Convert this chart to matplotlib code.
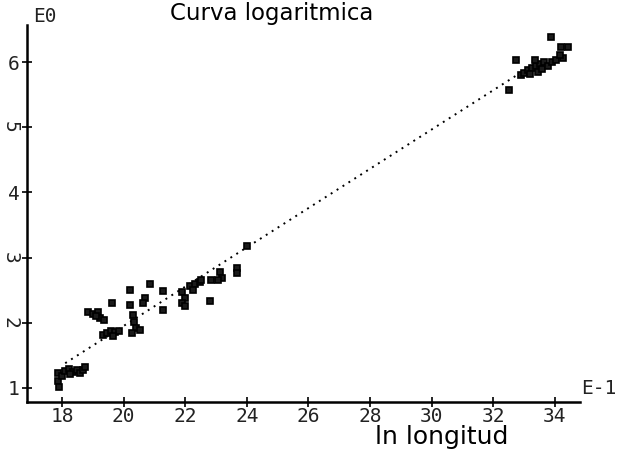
import matplotlib
matplotlib.use("Agg")
import matplotlib.pyplot as plt

# ln longitud (x, in units of E-1) vs ln peso (y, E0)
lower_x = [17.87, 17.87, 17.90, 18.00, 18.10, 18.23, 18.36, 18.49, 18.58, 18.68, 18.75, 18.26]
lower_y = [1.23, 1.11, 1.02, 1.18, 1.26, 1.29, 1.25, 1.28, 1.23, 1.28, 1.32, 1.21]

mid_x = [19.33, 19.46, 19.59, 19.72, 19.85, 19.66,
         18.84, 19.00, 19.17, 19.23, 19.36, 19.10, 19.62,
         20.21, 20.21, 20.30, 20.34, 20.40, 20.27, 20.53,
         20.69, 20.63, 20.86, 21.28, 21.28,
         21.90, 22.00, 21.90, 22.00, 22.16, 22.32, 22.48, 22.25,
         22.51, 22.84, 23.13, 23.19, 23.06, 23.68, 23.68, 22.81, 24.00]
mid_y = [1.81, 1.84, 1.87, 1.86, 1.87, 1.80,
         2.17, 2.13, 2.17, 2.07, 2.04, 2.10, 2.30,
         2.50, 2.27, 2.12, 2.01, 1.92, 1.84, 1.89,
         2.38, 2.30, 2.60, 2.49, 2.20,
         2.47, 2.38, 2.30, 2.26, 2.56, 2.59, 2.63, 2.50,
         2.66, 2.66, 2.78, 2.69, 2.66, 2.84, 2.76, 2.33, 3.18]

upper_x = [32.51, 32.74, 32.90, 33.00, 33.13, 33.26, 33.39, 33.52, 33.65,
           33.19, 33.45, 33.36, 33.58, 33.78, 33.90, 34.04, 33.88,
           34.20, 34.43, 34.27, 34.17]
upper_y = [5.57, 6.03, 5.80, 5.83, 5.88, 5.91, 5.94, 5.97, 6.00,
           5.82, 5.85, 6.03, 5.89, 5.94, 6.00, 6.03, 6.38,
           6.23, 6.23, 6.06, 6.11]

# fitted straight line (end points)
fit_x = [18.1, 33.0]
fit_y = [1.38, 5.87]

x_ticks = [18, 20, 22, 24, 26, 28, 30, 32, 34]
y_ticks = [1, 2, 3, 4, 5, 6]

fig = plt.figure(figsize=(6.34, 4.62), dpi=100)
ax = fig.add_axes([0.0426, 0.1299, 0.8724, 0.8161])

ax.plot(fit_x, fit_y, color="black", lw=1.4, linestyle=(0, (1, 2.6)))

xs = lower_x + mid_x + upper_x
ys = lower_y + mid_y + upper_y
ax.plot(xs, ys, linestyle="none", marker="s", ms=5, mfc="#1a1a1a",
        mec="black", mew=1.2)

ax.set_xlim(16.86, 34.82)
ax.set_ylim(0.785, 6.57)

for side in ("top", "right"):
    ax.spines[side].set_visible(False)
for side in ("left", "bottom"):
    ax.spines[side].set_linewidth(1.8)

mono = {"family": "DejaVu Sans Mono", "size": 14, "color": "#222222"}
ax.set_xticks(x_ticks)
ax.set_xticklabels([str(t) for t in x_ticks], fontdict=mono)
ax.set_yticks(y_ticks)
ax.set_yticklabels([str(t) for t in y_ticks], fontdict=mono)
ax.tick_params(direction="inout", length=7, width=1.2)
ax.tick_params(axis="x", pad=0)
ax.tick_params(axis="y", pad=2)

# the plotter drew some of the y digits sideways
for lab in ax.get_yticklabels():
    if lab.get_text() in ("2", "3", "5"):
        lab.set_rotation(-90)
        lab.set_va("center")

fig.text(0.052, 0.965, "E0", ha="left", va="center", **mono)
fig.text(0.917, 0.16, "E-1", ha="left", va="center", **mono)

fig.text(0.429, 0.97, "Curva logaritmica", ha="center", va="center",
         family="DejaVu Sans", fontsize=16.5, color="black")
fig.text(0.697, 0.054, "ln longitud", ha="center", va="center",
         family="DejaVu Sans", fontsize=18, color="black")

fig.savefig("out.png", dpi=100)
